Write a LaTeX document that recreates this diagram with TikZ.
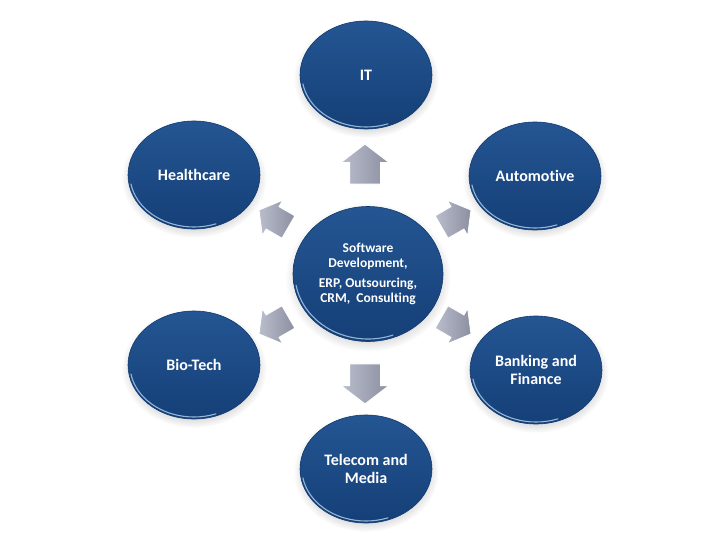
\documentclass[tikz,border=0pt]{standalone}
\usepackage{fontspec}
\setmainfont{Carlito}[Ligatures=NoCommon]
\usetikzlibrary{shapes.geometric,shapes.arrows,shadows,calc}
\definecolor{blueTop}{HTML}{245693}
\definecolor{blueBot}{HTML}{153F77}
\definecolor{blueEdge}{HTML}{123A6E}
\definecolor{rimLight}{HTML}{A9CBEA}
\definecolor{arrowLight}{HTML}{BABDCC}
\definecolor{arrowDark}{HTML}{8B8FA0}
\begin{document}
\begin{tikzpicture}[x=1pt,y=-1pt,
  sector/.style={ellipse, minimum width=132pt, minimum height=108pt, inner sep=0pt,
    top color=blueTop, bottom color=blueBot, draw=blueEdge, line width=0.6pt,
    text=white, font=\fontsize{16}{18.5}\selectfont\bfseries, align=center,
    circular drop shadow={shadow xshift=0pt, shadow yshift=-3pt, opacity=0.18, fill=black!70}},
  hub/.style={sector, minimum width=150pt, minimum height=135pt,
    font=\fontsize{13.5}{15.5}\selectfont\bfseries},
  blockarrow/.style={single arrow, single arrow head extend=8.5pt, single arrow tip angle=105,
    minimum width=47pt, minimum height=40pt, inner xsep=0pt, inner ysep=15pt,
    left color=arrowLight, right color=arrowDark, draw=white, line width=0.9pt},
  smallarrow/.style={blockarrow, minimum width=40pt, minimum height=34pt,
    inner ysep=12.5pt, single arrow head extend=7.5pt},
  rim/.style={rimLight, line width=1.1pt, opacity=0.85, line cap=round}]
\useasboundingbox (0,0) rectangle (728,546);
\fill[white] (0,0) rectangle (728,546);

\node[hub] (core) at (368,274) {Software\\Development,\\[4pt]ERP, Outsourcing,\\CRM,\ \ Consulting};
\node[sector] (it) at (366,75) {IT};
\node[sector] (health) at (194,175) {Healthcare};
\node[sector] (auto) at (535,176) {Automotive};
\node[sector] (bio) at (194,365) {Bio-Tech};
\node[sector] (bank) at (536,370) {Banking and\\Finance};
\node[sector] (tele) at (366,469) {Telecom and\\Media};

\foreach \n/\rx/\ry in {core/73/65, it/64/52, health/64/52, auto/64/52, bio/64/52, bank/64/52, tele/64/52}{
  \draw[rim] ($(\n.center)+(190:\rx pt and \ry pt)$) arc[start angle=190, end angle=290, x radius=\rx pt, y radius=\ry pt];
}

\node[blockarrow, rotate=90] (aup) at (365,170) {};
\node[blockarrow, rotate=-90] (adown) at (365,378) {};
\node[smallarrow, rotate=150] (aul) at (278,221) {};
\node[smallarrow, rotate=210] (all) at (278,323) {};
\node[smallarrow, rotate=30] (aur) at (452,221) {};
\node[smallarrow, rotate=-30] (alr) at (452,323) {};
\end{tikzpicture}
\end{document}
